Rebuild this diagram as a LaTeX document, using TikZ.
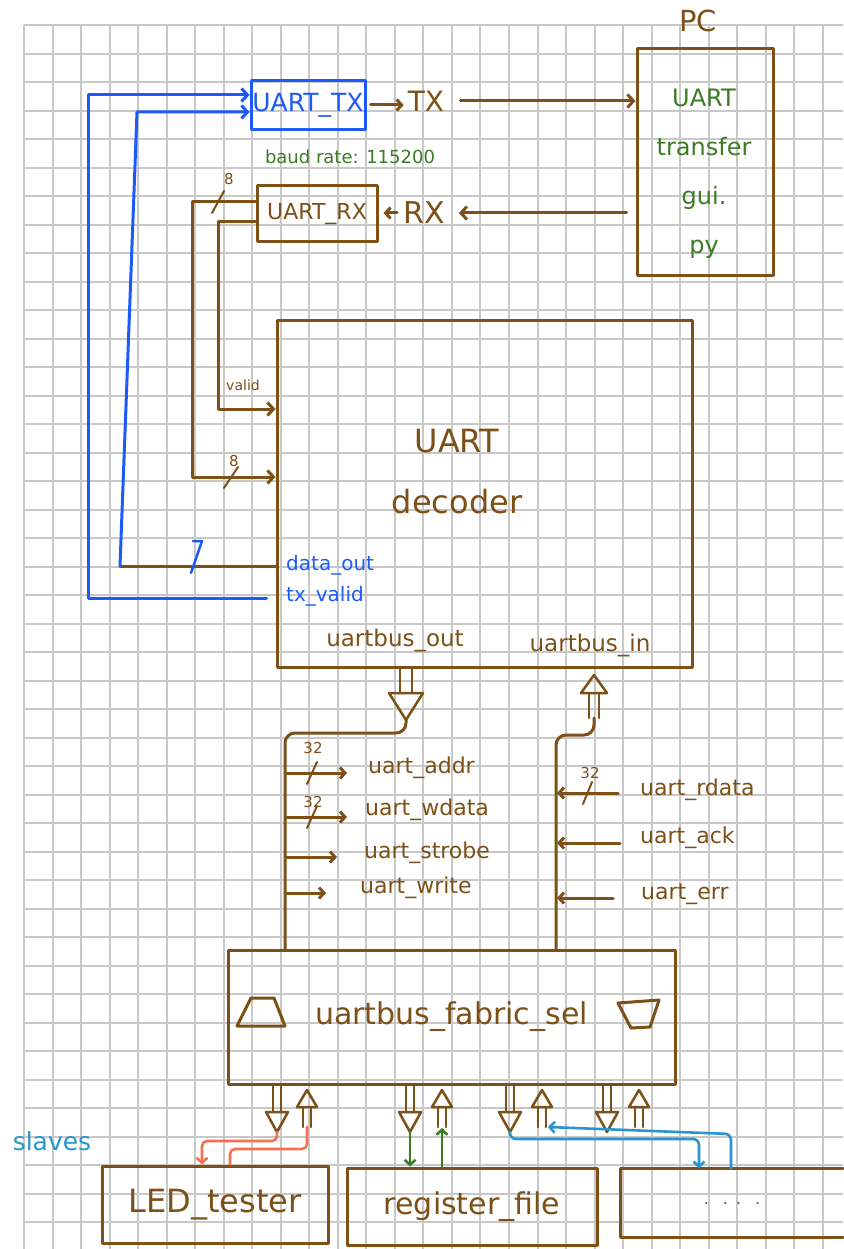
\documentclass[tikz,border=0pt]{standalone}
\usepackage{fontspec}
\setmainfont{DejaVu Sans}
\usetikzlibrary{arrows.meta,calc}
\definecolor{brn}{RGB}{124,80,22}
\definecolor{blu}{RGB}{28,90,250}
\definecolor{grn}{RGB}{60,124,36}
\definecolor{tea}{RGB}{40,150,205}
\definecolor{org}{RGB}{245,112,80}
\definecolor{grd}{RGB}{200,200,200}
\tikzset{
  br/.style={draw=brn,line width=3pt,line cap=round,line join=round},
  bl/.style={draw=blu,line width=3pt,line cap=round,line join=round},
  lw/.style={line width=2.6pt,line cap=round,line join=round},
  arr/.style={-{Straight Barb[length=6pt,width=13pt]}},
  sarr/.style={-{Straight Barb[length=5pt,width=11pt]}},
  box/.style={br,inner sep=0pt},
  lb/.style={text=brn,inner sep=0pt,font=\fontsize{#1pt}{#1pt}\selectfont},
  lbs/.style 2 args={text=brn,inner sep=0pt,font=\fontsize{#1pt}{#2pt}\selectfont},
  bus/.style={draw=brn,line width=2.5pt,line join=round,line cap=round},
  gridline/.style={draw=grd,line width=1.3pt},
  pics/bdown/.style n args={4}{code={
    \draw[bus] (-#4,0) -- (-#4,{#1-#2}) (#4,0) -- (#4,{#1-#2});
    \draw[bus] (-#3,{#1-#2}) -- (#3,{#1-#2}) -- (0,#1) -- cycle;
  }},
  pics/bup/.style n args={4}{code={
    \draw[bus] (-#4,#2) -- (-#4,#1) (#4,#2) -- (#4,#1);
    \draw[bus] (-#3,#2) -- (#3,#2) -- (0,0) -- cycle;
  }},
}
\begin{document}
\begin{tikzpicture}[x=1pt,y=-1pt]
\useasboundingbox (0,0) rectangle (843,1249);
\fill[white] (0,0) rectangle (843,1249);
% grid
\foreach \i in {0,...,28} {
  \pgfmathsetmacro{\gx}{round(24+28.53*\i)}
  \draw[gridline] (\gx,25) -- (\gx,1249);
}
\foreach \j in {0,...,42} {
  \pgfmathsetmacro{\gy}{round(25+28.5*\j)}
  \draw[gridline] (24,\gy) -- (843,\gy);
}

% top blocks
\node[box,lb=25,draw=blu,text=blu,minimum width=114pt,minimum height=49pt] (tx) at (308,105) {UART\_TX};
\node[box,lb=22,minimum width=120pt,minimum height=56pt] (rx) at (317,214) {UART\_RX};
\node[lb=18,text=grn] (baud) at (350,157) {baud rate: 115200};
\node[lb=28] (txl) at (426,101) {TX};
\node[lb=30] (rxl) at (424,213) {RX};
\node[box,minimum width=136pt,minimum height=226pt] (pc) at (705,162) {};
\node[lb=29] (pcl) at (698,21) {PC};
\node[lbs={24}{49},text=grn,align=center] (pct) at (704,174) {UART\\transfer\\gui.\\py};

% decoder
\node[box,minimum width=415pt,minimum height=347pt] (dec) at (484.5,493.5) {};
\node[lbs={32}{61},align=center] (dect) at (457,472) {UART\\decoder};
\node[lb=20,text=blu,anchor=west] (dout) at (286,565) {data\_out};
\node[lb=20,text=blu,anchor=west] (txv) at (286,596) {tx\_valid};
\node[lb=23] (ubo) at (395,640) {uartbus\_out};
\node[lb=23] (ubi) at (590,645) {uartbus\_in};
\node[lb=14] (vld) at (243,385) {valid};
\node[lb=15] (n8a) at (229,179) {8};
\node[lb=15] (n8b) at (234,461) {8};

% TX / RX connectors
\draw[br,sarr,shorten <=4pt,shorten >=4pt] (tx.east) -- (tx.east -| txl.west);
\draw[br,arr,shorten <=16pt] (txl.east) -- (txl.east -| pc.west);
\draw[br,arr,shorten <=9pt,shorten >=14pt] (rxl.east -| pc.west) -- (rxl.east);
\draw[br,sarr,shorten <=6pt,shorten >=5pt] (rxl.west) -- (rxl.west -| rx.east);

% blue to UART_TX
\draw[bl,arr,shorten <=9pt] (dec.west |- 0,598) -- (88,598) -- (88,95) -- (tx.west |- 0,95);
\draw[br] (dec.west |- 0,566) -- (120,566);
\draw[bl,arr] (120,566) -- (137,112) -- (tx.west |- 0,112);
\draw[bl,line width=2.5pt] (193,541) -- (202,541) -- (191,573);

% UART_RX to decoder
\draw[br,arr] (rx.west |- 0,202) -- (192,202) -- (192,477) -- (dec.west |- 0,477);
\draw[br,arr] (rx.west |- 0,222) -- (218,222) -- (218,409) -- (dec.west |- 0,409);
\draw[br,line width=2pt] (212,213) -- (224,191);
\draw[br,line width=2pt] (224,488) -- (238,467);

% fabric
\node[box,lb=30,minimum width=447pt,minimum height=134pt] (fab) at (451.5,1017) {uartbus\_fabric\_sel};
\draw[br] (237,1026) -- (251,998) -- (274,998) -- (285,1026) -- cycle;
\draw[br] (618,1003) -- (659,1000) -- (650,1027) -- (631,1028) -- cycle;

% decoder <-> fabric buses
\pic at (406,667) {bdown={53}{27}{17}{6}};
\pic at (594,675) {bup={43}{18}{13}{5}};
\draw[br,rounded corners=10pt] (406,720) |- (285,733) -- (285,0 |- fab.north);
\draw[br,rounded corners=10pt] (594,718) |- (556,735) -- (556,0 |- fab.north);

\coordinate (la1) at (285,773);
\coordinate (la2) at (285,817);
\coordinate (la3) at (285,857);
\coordinate (la4) at (285,893);
\coordinate (ra1) at (557,793);
\coordinate (ra2) at (557,843);
\coordinate (ra3) at (557,898);

\node[lb=22,anchor=west] (uaddr) at (368,768) {uart\_addr};
\node[lb=22,anchor=west] (uwdata) at (365,810) {uart\_wdata};
\node[lb=22,anchor=west] (ustrobe) at (364,853) {uart\_strobe};
\node[lb=22,anchor=west] (uwrite) at (360,888) {uart\_write};
\node[lb=22,anchor=west] (urdata) at (640,790) {uart\_rdata};
\node[lb=22,anchor=west] (uack) at (640,838) {uart\_ack};
\node[lb=22,anchor=west] (uerr) at (641,894) {uart\_err};
\node[lb=15] (n32a) at (313,748) {32};
\node[lb=15] (n32b) at (313,802) {32};
\node[lb=15] (n32c) at (590,773) {32};

\draw[br,sarr,shorten >=21pt] (la1) -- (la1 -| uaddr.west);
\draw[br,sarr,shorten >=18pt] (la2) -- (la2 -| uwdata.west);
\draw[br,sarr,shorten >=27pt] (la3) -- (la3 -| ustrobe.west);
\draw[br,sarr,shorten >=34pt] (la4) -- (la4 -| uwrite.west);
\draw[br,sarr,shorten <=22pt] (ra1 -| urdata.west) -- (ra1);
\draw[br,sarr,shorten <=20pt] (ra2 -| uack.west) -- (ra2);
\draw[br,sarr,shorten <=28pt] (ra3 -| uerr.west) -- (ra3);
\draw[br,line width=2pt] (307,784) -- (317,762);
\draw[br,line width=2pt] (307,828) -- (317,806);
\draw[br,line width=2pt] (583,804) -- (592,782);

% fabric -> slaves ports
\pic at (277,1084) {bdown={48}{20}{11}{4}};
\pic at (307,1090) {bup={37}{17}{10}{4}};
\pic at (410,1084) {bdown={48}{20}{11}{4}};
\pic at (442,1090) {bup={37}{17}{10}{4}};
\pic at (510,1084) {bdown={48}{20}{11}{4}};
\pic at (542,1090) {bup={37}{17}{10}{4}};
\pic at (607,1084) {bdown={48}{20}{11}{4}};
\pic at (639,1090) {bup={37}{17}{10}{4}};

% slaves
\node[lb=25,text=tea] (slv) at (52,1141) {slaves};
\node[box,lb=32,minimum width=226pt,minimum height=77pt] (led) at (215,1204.5) {LED\_tester};
\node[box,lb=30,minimum width=250pt,minimum height=77pt] (reg) at (472,1206.5) {register\_file};
\node[lb=16,minimum width=222pt,minimum height=69pt] (more) at (732,1203) {.\hspace{14pt}.\hspace{8pt}.\hspace{14pt}.};
\draw[br] (more.north east) -- (more.north west) -- (more.south west) -- (more.south east);

% coloured slave links
\draw[org,lw,sarr,rounded corners=5pt] (277,1132) |- (202,1141) -- (202,0 |- led.north);
\draw[org,lw,rounded corners=5pt] (230,0 |- led.north) |- (307,1149) -- (307,1127);
\draw[grn,lw,sarr] (410,1132) -- (410,0 |- reg.north);
\draw[grn,lw,sarr] (442,0 |- reg.north) -- (442,1128);
\draw[tea,lw,sarr,rounded corners=6pt] (510,1132) |- (699,1139) -- (699,0 |- more.north);
\draw[tea,lw,sarr,rounded corners=6pt] (731,0 |- more.north) -- (731,1134) -- (548,1127);
\end{tikzpicture}
\end{document}
